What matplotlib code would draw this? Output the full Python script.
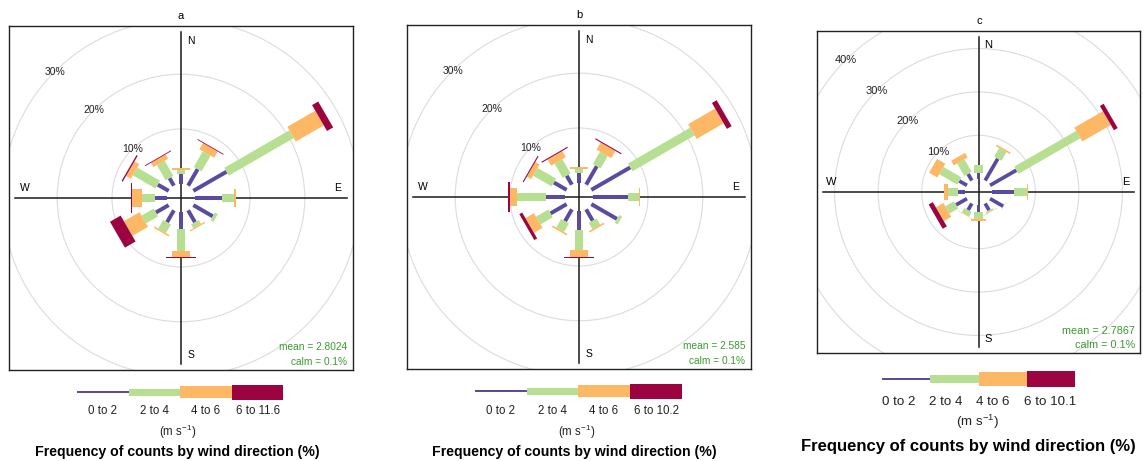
import numpy as np
import matplotlib
matplotlib.use("Agg")
import matplotlib.pyplot as plt
from matplotlib.patches import Polygon, Circle, Rectangle

plt.rcParams['font.family'] = ['Liberation Sans', 'DejaVu Sans']
plt.rcParams['mathtext.default'] = 'regular'

# ============ DATA ============
# wind direction sectors (degrees clockwise from north)
directions = [0, 30, 60, 90, 120, 150, 180, 210, 240, 270, 300, 330]

# frequency (%) of each speed bin per sector
a_0to2 = [1.7, 3.5, 7.0, 4.9, 4.1, 2.5, 3.0, 2.5, 2.7, 2.1, 2.3, 1.6]
a_2to4 = [0.9, 3.3, 13.7, 2.2, 0.6, 0.8, 4.1, 1.8, 2.55, 2.5, 4.8, 3.2]
a_4to6 = [0.2, 1.3, 5.9, 0.25, 0.0, 0.25, 1.1, 0.3, 3.3, 1.7, 1.0, 0.9]
a_6up = [0.0, 0.15, 1.3, 0.0, 0.0, 0.0, 0.15, 0.0, 2.25, 0.3, 0.25, 0.15]

b_0to2 = [1.85, 3.9, 8.2, 6.3, 5.4, 2.4, 3.4, 2.5, 3.4, 3.5, 2.7, 1.9]
b_2to4 = [0.75, 2.6, 13.1, 2.0, 0.6, 1.3, 3.7, 1.8, 2.6, 5.3, 3.9, 3.0]
b_4to6 = [0.3, 1.5, 5.7, 0.2, 0.0, 0.3, 1.2, 0.3, 1.8, 1.2, 0.9, 1.3]
b_6up = [0.0, 0.2, 1.0, 0.0, 0.0, 0.0, 0.2, 0.0, 0.6, 0.4, 0.2, 0.2]

c_0to2 = [1.3, 5.8, 7.0, 5.0, 3.5, 1.8, 1.5, 1.75, 2.9, 1.7, 2.05, 1.75]
c_2to4 = [1.9, 2.3, 16.4, 3.0, 0.1, 0.4, 1.7, 1.2, 2.3, 2.3, 4.75, 3.35]
c_4to6 = [0.0, 0.4, 7.6, 0.3, 0.0, 0.1, 0.4, 0.1, 2.0, 0.8, 2.2, 1.2]
c_6up = [0.0, 0.0, 1.0, 0.0, 0.0, 0.0, 0.0, 0.0, 1.1, 0.15, 0.0, 0.0]

a_labels = ["0 to 2", "2 to 4", "4 to 6", "6 to 11.6"]
b_labels = ["0 to 2", "2 to 4", "4 to 6", "6 to 10.2"]
c_labels = ["0 to 2", "2 to 4", "4 to 6", "6 to 10.1"]

a_mean, b_mean, c_mean = "2.8024", "2.585", "2.7867"
calm = "0.1%"

ab_grid = [10, 20, 30]
c_grid = [10, 20, 30, 40]
# ==============================

COLS = ['#5A4BA0', '#B6DF92', '#FDB866', '#9C0441']
PADDLE = [0.023, 0.052, 0.099, 0.174]  # paddle widths as fraction of half-range
TEXT_GREEN = '#3A9A2E'

W, H_PX = 1146, 461
fig = plt.figure(figsize=(W / 100, H_PX / 100), dpi=100)


def px_axes(left, top, width, height):
    return fig.add_axes([left / W, 1 - (top + height) / H_PX, width / W, height / H_PX])


def draw_rose(ax, bins, half, off, grid, mean, fs):
    ax.set_xlim(-half, half)
    ax.set_ylim(-half, half)
    ax.set_xticks([])
    ax.set_yticks([])
    for sp in ax.spines.values():
        sp.set_linewidth(1.0)
        sp.set_color('#222222')

    for lvl in grid:
        ax.add_patch(Circle((0, 0), off + lvl, fill=False, ec='#DCDCDC', lw=0.8))
        r = off + lvl
        ax.text(-r * np.sin(np.pi / 4), r * np.cos(np.pi / 4), f"{lvl}%",
                ha='center', va='center', fontsize=fs, color='#222222')

    ext = 0.965 * half
    ax.plot([-ext, ext], [0, 0], color='#1A1A1A', lw=1.1)
    ax.plot([0, 0], [-ext, ext], color='#1A1A1A', lw=1.1)

    d = 0.91 * half
    p = 0.06 * half
    ax.text(p, d, "N", ha='center', va='center', fontsize=fs)
    ax.text(p, -d, "S", ha='center', va='center', fontsize=fs)
    ax.text(d, p, "E", ha='center', va='center', fontsize=fs)
    ax.text(-d, p, "W", ha='center', va='center', fontsize=fs)

    # stacked paddles, one per sector
    for k, wd in enumerate(directions):
        th = np.deg2rad(wd)
        s, c = np.sin(th), np.cos(th)
        base = 0.0
        for i, series in enumerate(bins):
            f = series[k]
            if f <= 0:
                continue
            r1, r2 = off + base, off + base + f
            hw = PADDLE[i] * half / 2
            pts = [(r1 * s - hw * c, r1 * c + hw * s),
                   (r1 * s + hw * c, r1 * c - hw * s),
                   (r2 * s + hw * c, r2 * c - hw * s),
                   (r2 * s - hw * c, r2 * c + hw * s)]
            ax.add_patch(Polygon(pts, closed=True, fc=COLS[i], ec='none', zorder=3))
            base += f

    ax.text(0.984, 0.068, f"mean = {mean}", transform=ax.transAxes, ha='right',
            va='center', fontsize=fs - 0.2, color=TEXT_GREEN)
    ax.text(0.984, 0.024, f"calm = {calm}", transform=ax.transAxes, ha='right',
            va='center', fontsize=fs - 0.2, color=TEXT_GREEN)


ax_a = px_axes(9, 26, 344, 344)
draw_rose(ax_a, [a_0to2, a_2to4, a_4to6, a_6up], 31.4, 2.6, ab_grid, a_mean, 7.5)
ax_b = px_axes(407, 25, 344, 344)
draw_rose(ax_b, [b_0to2, b_2to4, b_4to6, b_6up], 31.4, 2.6, ab_grid, b_mean, 7.5)
ax_c = px_axes(817, 31, 323, 322)
draw_rose(ax_c, [c_0to2, c_2to4, c_4to6, c_6up], 37.1, 3.06, c_grid, c_mean, 8.0)

# overlay in pixel units for titles, keys and captions
ov = fig.add_axes([0, 0, 1, 1])
ov.set_xlim(0, W)
ov.set_ylim(H_PX, 0)
ov.axis('off')

for x, y, t in [(181, 16, 'a'), (579, 15, 'b'), (979, 21, 'c')]:
    ov.text(x, y, t, ha='center', va='center', fontsize=8)


def draw_key(x0, seg, yc, heights, labels, label_x, label_y, unit_xy, cap_xy, fs, cap_fs):
    for i in range(4):
        h = heights[i]
        ov.add_patch(Rectangle((x0 + i * seg, yc - h / 2), seg, h, fc=COLS[i], ec='none'))
    for lx, lab in zip(label_x, labels):
        ov.text(lx, label_y, lab, ha='center', va='center', fontsize=fs, color='#222222')
    ov.text(unit_xy[0], unit_xy[1], "(m s$^{-1}$)", ha='center', va='center',
            fontsize=fs, color='#222222')
    ov.text(cap_xy[0], cap_xy[1], "Frequency of counts by wind direction (%)",
            ha='center', va='center', fontsize=cap_fs, fontweight='bold')


draw_key(77, 51.5, 392, [2.7, 7, 11.5, 15], a_labels, [103, 155, 206, 258], 411,
         (178, 432), (177, 452), 8.3, 10.2)
draw_key(475, 51.7, 391, [2.7, 7, 11.5, 15], b_labels, [501, 552, 604, 656], 411,
         (577, 432), (574, 452), 8.3, 10.2)
draw_key(882, 48.3, 379, [2.7, 7.7, 13.7, 16], c_labels, [899, 946, 993, 1050], 402,
         (977, 422), (968, 446), 9.6, 12.0)

fig.savefig("out.png", dpi=100)
